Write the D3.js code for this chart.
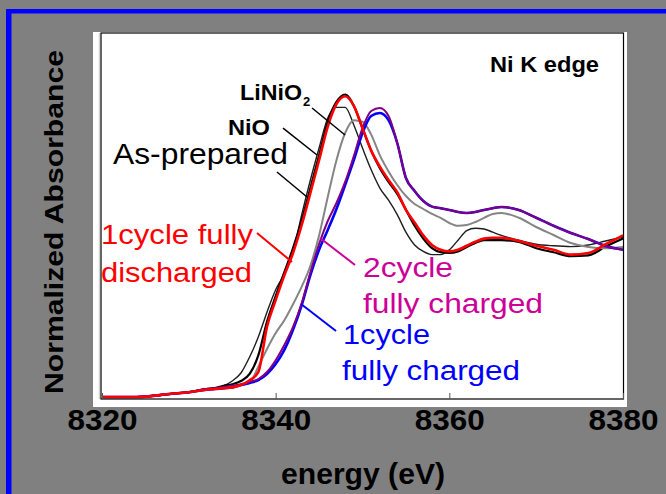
<!DOCTYPE html>
<html><head><meta charset="utf-8">
<script src="https://cdn.jsdelivr.net/npm/d3@7"></script>
<style>
html,body{margin:0;padding:0;background:#808080;}
svg{display:block;}
text{font-family:"Liberation Sans",Arial,Helvetica,sans-serif;}
</style></head>
<body><svg id="c" width="666" height="494"></svg>
<script>
// ---------- data ----------
const energy = [8320,8324,8328,8330,8332,8333,8334,8335,8336,8337,8338,8339,8340,8341,8342,8343,8344,8345,8346,8347,8348,8349,8350,8351,8352,8353,8354,8355,8356,8357,8358,8359,8360,8361,8362,8363,8364,8365,8366,8368,8370,8372,8374,8376,8378,8380];
const nio = [0,0,0.02,0.03,0.05,0.055,0.07,0.10,0.15,0.25,0.375,0.53,0.67,0.77,0.905,1.14,1.356,1.556,1.744,1.81,1.81,1.70,1.556,1.42,1.306,1.23,1.14,1.03,0.95,0.91,0.89,0.89,0.92,0.98,1.04,1.055,1.05,1.03,1.01,0.98,0.955,0.945,0.94,0.95,0.975,1.0];
const asPrepared = [0,0,0.02,0.03,0.05,0.055,0.07,0.08,0.10,0.144,0.26,0.47,0.63,0.78,0.93,1.106,1.306,1.51,1.72,1.844,1.89,1.82,1.68,1.54,1.43,1.344,1.27,1.17,1.07,0.99,0.93,0.905,0.90,0.91,0.9375,0.9625,0.98,0.98,0.98,0.97,0.93,0.905,0.88,0.885,0.94,0.99];
const liNiO2 = [0,0,0.02,0.03,0.045,0.05,0.055,0.06,0.075,0.0875,0.19,0.30,0.40,0.48,0.58,0.69,0.82,1.01,1.25,1.48,1.65,1.73,1.72,1.64,1.51,1.41,1.325,1.256,1.206,1.175,1.144,1.12,1.0875,1.07,1.075,1.094,1.12,1.144,1.15,1.12,1.0625,1.0125,0.9625,0.9375,0.93,0.9375];
const charged1 = [0,0,0.02,0.03,0.045,0.05,0.055,0.06,0.075,0.0875,0.106,0.144,0.206,0.294,0.42,0.575,0.7625,0.92,1.044,1.175,1.325,1.48,1.65,1.756,1.775,1.73,1.5875,1.369,1.2875,1.225,1.19,1.18,1.169,1.156,1.15,1.156,1.169,1.18,1.1875,1.169,1.12,1.07,1.025,0.9875,0.944,0.92];
const charged2 = [0,0,0.02,0.03,0.05,0.055,0.0625,0.07,0.08,0.094,0.1125,0.156,0.23,0.325,0.4375,0.5875,0.78,0.956,1.1,1.2125,1.344,1.506,1.68,1.7875,1.806,1.756,1.5875,1.369,1.2875,1.225,1.19,1.18,1.169,1.156,1.15,1.156,1.169,1.18,1.1875,1.169,1.12,1.07,1.025,0.9875,0.944,0.92];
const discharged1 = [0,0,0.02,0.03,0.045,0.05,0.055,0.06,0.075,0.105,0.155,0.44,0.605,0.76,0.90,1.075,1.275,1.48,1.69,1.83,1.88,1.82,1.68,1.54,1.44,1.356,1.28,1.17,1.09,1.01,0.95,0.92,0.91,0.92,0.945,0.97,0.99,0.995,0.995,0.975,0.945,0.92,0.89,0.90,0.955,1.01];
const xTicks = [8320,8340,8360,8380];

// annotation leader lines in data units
const leaders = [
  {from:[8344.19,1.806], to:[8347.99,1.6375], color:"#000", w:1.5},
  {from:[8340.85,1.681], to:[8344.76,1.5125], color:"#000", w:1.5},
  {from:[8340.15,1.406], to:[8343.61,1.25], color:"#000", w:1.5},
  {from:[8337.85,1.025], to:[8341.88,0.844], color:"#ff0000", w:2},
  {from:[8345.11,0.994], to:[8349.14,0.825], color:"#cc0099", w:2},
  {from:[8342.92,0.581], to:[8346.95,0.4125], color:"#0000ff", w:2}
];

// ---------- layout ----------
const svg = d3.select("#c");
const F = {l:101, r:623.5, t:33, b:399};
const x = d3.scaleLinear().domain([8320,8380]).range([102,623]);
const y = d3.scaleLinear().domain([0,2]).range([397,77]);

// blue frame of slide
svg.append("rect").attr("x",6).attr("y",9).attr("width",660).attr("height",4.5).attr("fill","#0000ff");
svg.append("rect").attr("x",6).attr("y",9).attr("width",5.5).attr("height",485).attr("fill","#0000ff");

// white plate
svg.append("rect").attr("x",93).attr("y",32).attr("width",534).attr("height",375).attr("fill","#fff");
svg.append("line").attr("x1",99.3).attr("x2",99.3).attr("y1",33).attr("y2",399).attr("stroke","#c8c8c8").attr("stroke-width",1);

// curves
const line = d3.line().x((d,i)=>x(energy[i])).y(d=>y(d)).curve(d3.curveMonotoneX);
const series = [
  {v:nio, c:"#1e1e1e", w:1.4},
  {v:asPrepared, c:"#000", w:2.2},
  {v:liNiO2, c:"#858585", w:2},
  {v:charged1, c:"#0000ff", w:2.6},
  {v:charged2, c:"#800080", w:2},
  {v:discharged1, c:"#ff0000", w:2.6}
];
const g = svg.append("g");
g.selectAll("path.s").data(series).join("path").attr("class","s")
  .attr("d",d=>line(d.v)).attr("fill","none").attr("stroke",d=>d.c).attr("stroke-width",d=>d.w)
  .attr("stroke-linejoin","round");

// frame
svg.append("rect").attr("x",F.l).attr("y",F.t).attr("width",F.r-F.l).attr("height",F.b-F.t)
  .attr("fill","none").attr("stroke","#000").attr("stroke-width",1.2);

// x axis
const ax = svg.append("g").attr("transform",`translate(0,${F.b})`)
  .call(d3.axisBottom(x).tickValues(xTicks).tickFormat(d3.format("d")).tickSize(-6).tickPadding(10));
ax.select(".domain").remove();
ax.selectAll(".tick line").attr("stroke","#555");
ax.selectAll("text").attr("font-size",29).attr("font-weight","bold").attr("fill","#000")
  .attr("font-family","Liberation Sans, Arial, sans-serif")
  .attr("textLength",70).attr("lengthAdjust","spacingAndGlyphs");

// axis titles
svg.append("text").attr("x",363).attr("y",484).attr("text-anchor","middle")
  .attr("font-size",30).attr("font-weight","bold").attr("textLength",164).attr("lengthAdjust","spacingAndGlyphs")
  .text("energy (eV)");
svg.append("text").attr("transform","translate(63,222) rotate(-90)").attr("text-anchor","middle")
  .attr("font-size",26).attr("font-weight","bold").attr("textLength",344).attr("lengthAdjust","spacingAndGlyphs")
  .text("Normalized Absorbance");

// leaders
svg.selectAll("line.ld").data(leaders).join("line").attr("class","ld")
  .attr("x1",d=>x(d.from[0])).attr("y1",d=>y(d.from[1]))
  .attr("x2",d=>x(d.to[0])).attr("y2",d=>y(d.to[1]))
  .attr("stroke",d=>d.color).attr("stroke-width",d=>d.w);

// labels
function lab(t,xx,yy,fs,col,bold,len){
  const e = svg.append("text").attr("x",xx).attr("y",yy).attr("font-size",fs).attr("fill",col)
    .attr("font-weight",bold?"bold":"normal").text(t);
  if(len) e.attr("textLength",len).attr("lengthAdjust","spacingAndGlyphs");
  return e;
}
lab("Ni K edge",490,72,22,"#000",true,109);
lab("LiNiO",240,100,22,"#000",true,62);
lab("2",303,106,13,"#000",true);
lab("NiO",228,135,22,"#000",true,42);
lab("As-prepared",113,164,29,"#000",false,175);
lab("1cycle fully",101,244,27,"#ff0000",false,152);
lab("discharged",101,282,27,"#ff0000",false,151);
lab("2cycle",363,277,27,"#cc0099",false,90);
lab("fully charged",363,313,27,"#cc0099",false,180);
lab("1cycle",343,344,27,"#0000ff",false,87);
lab("fully charged",342,380,27,"#0000ff",false,178);
</script></body></html>
